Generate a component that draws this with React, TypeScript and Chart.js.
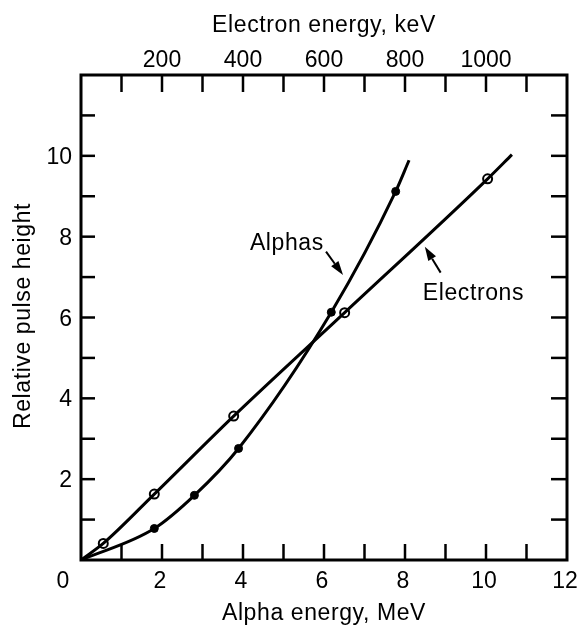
import React, { useEffect, useRef } from "react";
import { Chart, registerables } from "chart.js";

Chart.register(...registerables);

// ---- Data ----
// Alphas (filled markers), plotted on the bottom axis (Alpha energy, MeV)
const alphaEnergyMeV = [1.81, 2.8, 3.89, 6.18, 7.77];
const alphaPulse = [0.78, 1.6, 2.76, 6.13, 9.12];
// Smooth curve drawn through the alpha points (from origin to line end)
const alphaCurveX = [0, 1.81, 2.8, 3.89, 6.18, 7.77, 8.1];
const alphaCurveY = [0, 0.78, 1.6, 2.76, 6.13, 9.12, 9.89];

// Electrons (open markers), plotted on the top axis (Electron energy, keV)
const electronEnergyKeV = [55, 181, 377, 651, 1004];
const electronPulse = [0.41, 1.63, 3.56, 6.12, 9.43];
const electronCurveX = [0, 55, 181, 377, 651, 1004, 1064];
const electronCurveY = [0, 0.41, 1.63, 3.56, 6.12, 9.43, 10.03];

// Tick labels
const alphaTickLabels = [0, 2, 4, 6, 8, 10, 12];
const electronTickLabels = [200, 400, 600, 800, 1000];
const pulseTickLabels = [2, 4, 6, 8, 10];

// Text
const topTitle = "Electron energy, keV";
const bottomTitle = "Alpha energy, MeV";
const leftTitle = "Relative pulse height";

// Annotations (in bottom-axis MeV / pulse-height units)
const alphaLabel = { text: "Alphas", x: 4.17, y: 7.67 };
const alphaArrow = [6.05, 7.63, 6.47, 7.05];
const electronLabel = { text: "Electrons", x: 8.44, y: 6.43 };
const electronArrow = [8.88, 7.11, 8.49, 7.75];

const FONT = '"Liberation Sans", Arial, Helvetica, sans-serif';

function line(ctx: CanvasRenderingContext2D, x1: number, y1: number, x2: number, y2: number) {
  ctx.beginPath();
  ctx.moveTo(x1, y1);
  ctx.lineTo(x2, y2);
  ctx.stroke();
}

function arrow(ctx: CanvasRenderingContext2D, x1: number, y1: number, x2: number, y2: number) {
  const ang = Math.atan2(y2 - y1, x2 - x1);
  const headLen = 14;
  const headW = 4.5;
  const bx = x2 - headLen * Math.cos(ang);
  const by = y2 - headLen * Math.sin(ang);
  ctx.lineWidth = 2;
  line(ctx, x1, y1, bx, by);
  ctx.beginPath();
  ctx.moveTo(x2, y2);
  ctx.lineTo(bx + headW * Math.sin(ang), by - headW * Math.cos(ang));
  ctx.lineTo(bx - headW * Math.sin(ang), by + headW * Math.cos(ang));
  ctx.closePath();
  ctx.fill();
}

const framePlugin = {
  id: "framePlugin",
  afterDatasetsDraw(chart: any) {
    const ctx: CanvasRenderingContext2D = chart.ctx;
    const { left, right, top, bottom } = chart.chartArea;
    const sx = chart.scales.x;
    const sx2 = chart.scales.x2;
    const sy = chart.scales.y;
    ctx.save();
    ctx.strokeStyle = "#000";
    ctx.fillStyle = "#000";
    ctx.lineCap = "butt";

    // inward ticks
    ctx.lineWidth = 2.5;
    for (let v = 1; v < 12; v++) {
      const px = sx.getPixelForValue(v);
      line(ctx, px, bottom, px, bottom - 16);
    }
    for (let v = 100; v < 1200; v += 100) {
      const px = sx2.getPixelForValue(v);
      line(ctx, px, top, px, top + 17);
    }
    for (let v = 1; v < 12; v++) {
      const py = sy.getPixelForValue(v);
      line(ctx, left, py, left + 14, py);
      line(ctx, right, py, right - 16, py);
    }

    // frame
    ctx.lineWidth = 3;
    ctx.strokeRect(left, top, right - left, bottom - top);

    // tick labels
    ctx.font = `23px ${FONT}`;
    ctx.textAlign = "center";
    ctx.textBaseline = "alphabetic";
    alphaTickLabels.forEach((v) => {
      let px = sx.getPixelForValue(v) - 2;
      if (v === 0) px -= 16;
      ctx.fillText(String(v), px, bottom + 28);
    });
    electronTickLabels.forEach((v) => {
      ctx.fillText(String(v), sx2.getPixelForValue(v), top - 8);
    });
    ctx.textAlign = "right";
    pulseTickLabels.forEach((v) => {
      ctx.fillText(String(v), left - 9, sy.getPixelForValue(v) + 8);
    });

    // axis titles
    ctx.font = `23px ${FONT}`;
    (ctx as any).letterSpacing = "0.6px";
    ctx.textAlign = "center";
    const cx = (left + right) / 2;
    ctx.fillText(topTitle, cx, 32);
    ctx.fillText(bottomTitle, cx, 620);
    ctx.save();
    ctx.translate(24, 316);
    ctx.rotate(-Math.PI / 2);
    ctx.textBaseline = "middle";
    ctx.fillText(leftTitle, 0, 0);
    ctx.restore();

    // annotations
    ctx.textAlign = "left";
    ctx.textBaseline = "alphabetic";
    ctx.fillText(alphaLabel.text, sx.getPixelForValue(alphaLabel.x), sy.getPixelForValue(alphaLabel.y));
    ctx.fillText(electronLabel.text, sx.getPixelForValue(electronLabel.x), sy.getPixelForValue(electronLabel.y));
    (ctx as any).letterSpacing = "0px";
    arrow(
      ctx,
      sx.getPixelForValue(alphaArrow[0]),
      sy.getPixelForValue(alphaArrow[1]),
      sx.getPixelForValue(alphaArrow[2]),
      sy.getPixelForValue(alphaArrow[3])
    );
    arrow(
      ctx,
      sx.getPixelForValue(electronArrow[0]),
      sy.getPixelForValue(electronArrow[1]),
      sx.getPixelForValue(electronArrow[2]),
      sy.getPixelForValue(electronArrow[3])
    );
    ctx.restore();
  },
};

const hiddenAxis = {
  ticks: { display: false },
  grid: { display: false },
  border: { display: false },
};

export default function App() {
  const canvasRef = useRef<HTMLCanvasElement | null>(null);

  useEffect(() => {
    const canvas = canvasRef.current;
    if (!canvas) return;
    const chart = new Chart(canvas, {
      type: "scatter",
      data: {
        datasets: [
          {
            label: "Alphas curve",
            data: alphaCurveX.map((v, i) => ({ x: v, y: alphaCurveY[i] })),
            xAxisID: "x",
            yAxisID: "y",
            showLine: true,
            borderColor: "#000",
            borderWidth: 3,
            pointRadius: 0,
            cubicInterpolationMode: "monotone",
            fill: false,
          },
          {
            label: "Electrons curve",
            data: electronCurveX.map((v, i) => ({ x: v, y: electronCurveY[i] })),
            xAxisID: "x2",
            yAxisID: "y",
            showLine: true,
            borderColor: "#000",
            borderWidth: 3,
            pointRadius: 0,
            cubicInterpolationMode: "monotone",
            fill: false,
          },
          {
            label: "Alphas",
            data: alphaEnergyMeV.map((v, i) => ({ x: v, y: alphaPulse[i] })),
            xAxisID: "x",
            yAxisID: "y",
            showLine: false,
            pointRadius: 4,
            pointBackgroundColor: "#000",
            pointBorderColor: "#000",
            pointBorderWidth: 1,
          },
          {
            label: "Electrons",
            data: electronEnergyKeV.map((v, i) => ({ x: v, y: electronPulse[i] })),
            xAxisID: "x2",
            yAxisID: "y",
            showLine: false,
            pointRadius: 4.5,
            pointBackgroundColor: "#fff",
            pointBorderColor: "#000",
            pointBorderWidth: 2,
          },
        ],
      },
      options: {
        responsive: false,
        animation: false,
        devicePixelRatio: 1,
        layout: { padding: { left: 0, right: 14, top: 0, bottom: 0 } },
        plugins: { legend: { display: false }, tooltip: { enabled: false } },
        scales: {
          x: {
            type: "linear",
            position: "bottom",
            min: 0,
            max: 12,
            ...hiddenAxis,
            afterFit: (s: any) => {
              s.height = 65;
            },
          },
          x2: {
            type: "linear",
            position: "top",
            min: 0,
            max: 1200,
            ...hiddenAxis,
            afterFit: (s: any) => {
              s.height = 75;
            },
          },
          y: {
            type: "linear",
            position: "left",
            min: 0,
            max: 12,
            ...hiddenAxis,
            afterFit: (s: any) => {
              s.width = 81;
            },
          },
        },
      } as any,
      plugins: [framePlugin],
    });
    return () => chart.destroy();
  }, []);

  return (
    <div style={{ position: "fixed", left: 0, top: 0, width: 581, height: 625, background: "#fff" }}>
      <canvas ref={canvasRef} width={581} height={625} style={{ display: "block" }} />
    </div>
  );
}
